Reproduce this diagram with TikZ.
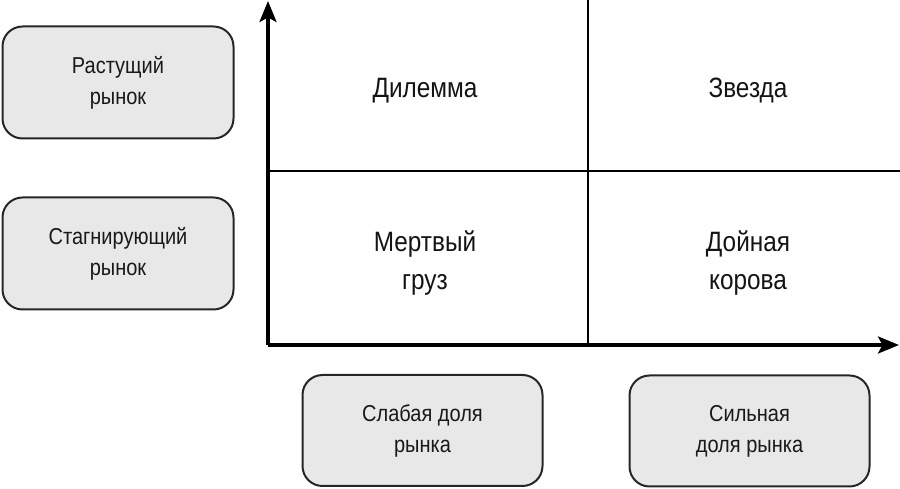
\documentclass[tikz,border=0pt]{standalone}
\usepackage{fontspec}
\setmainfont[FakeStretch=0.87]{Liberation Sans}
\usetikzlibrary{arrows.meta}
\tikzset{
  lab/.style={draw=black!85,line width=2pt,fill=black!9,rounded corners=20pt,inner sep=0pt,align=center,font=\fontsize{23}{31}\selectfont,text=black!90},
  quad/.style={align=center,font=\fontsize{28}{38}\selectfont,text=black!92},
  axisline/.style={line width=3.2pt,arrows={-Stealth[length=21pt,width=17pt,inset=4.5pt]}},
  gridline/.style={line width=2.2pt}}
\begin{document}
\begin{tikzpicture}[x=1pt,y=1pt]
\useasboundingbox (0,0) rectangle (900,489);
\node[lab,minimum width=231pt,minimum height=112pt] (grow) at (118,406.5) {Растущий\\рынок};
\node[lab,minimum width=231pt,minimum height=112pt] (stag) at (118,235.5) {Стагнирующий\\рынок};
\node[lab,minimum width=240pt,minimum height=111pt] (weak) at (422.5,58.5) {Слабая доля\\рынка};
\node[lab,minimum width=240pt,minimum height=111pt] (strong) at (749.5,58) {Сильная\\доля рынка};
\coordinate (O) at (268,144);
\coordinate (ytop) at (268,488);
\coordinate (xend) at (899,144);
\coordinate (mtop) at (588,489);
\coordinate (mbot) at (588,144);
\coordinate (hl) at (268,318);
\coordinate (hr) at (900,318);
\draw[gridline] (mtop) -- (mbot);
\draw[gridline] (hl) -- (hr);
\draw[axisline] (O) -- (ytop);
\draw[axisline] (O) -- (xend);
\node[quad] (dil) at (425,398) {Дилемма};
\node[quad] (star) at (748,398) {Звезда};
\node[quad] (dog) at (425,226) {Мертвый\\груз};
\node[quad] (cow) at (748,226) {Дойная\\корова};
\end{tikzpicture}
\end{document}
